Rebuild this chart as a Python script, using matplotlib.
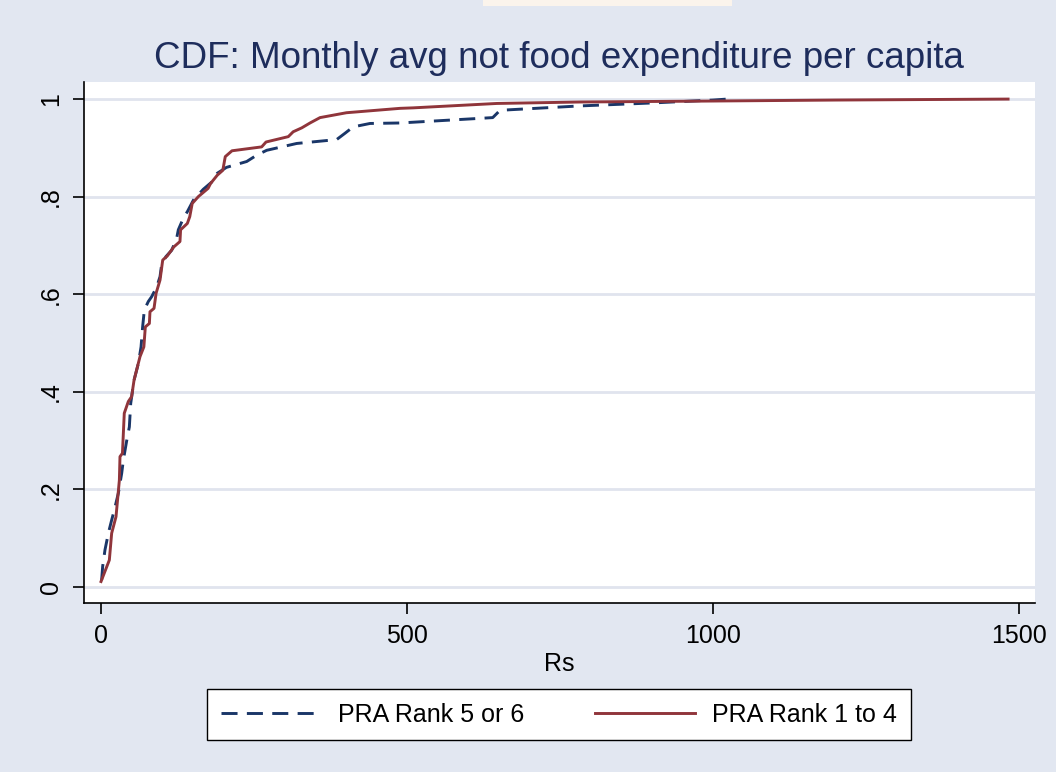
import matplotlib
matplotlib.use("Agg")
import matplotlib.pyplot as plt
from matplotlib.patches import Rectangle

plt.rcParams["font.family"] = ["Liberation Sans", "DejaVu Sans"]

# PRA Rank 5 or 6 (dashed navy)
rs_low = [1, 2.7, 6.5, 12, 17.4, 21.8, 28.3, 33.8, 36.5, 42, 46.3, 48.5, 54, 61,
          65.4, 68, 70.8, 77.3, 82.8, 91, 96.4, 99, 106, 115.4, 123.5, 126.3,
          135.6, 141, 151, 167, 181, 190, 205, 238, 254.4, 270.7, 319.7, 385,
          398.7, 412, 439.5, 488.6, 640, 652, 783, 900, 1000, 1023]
cdf_low = [0.014, 0.042, 0.076, 0.11, 0.137, 0.158, 0.192, 0.233, 0.26, 0.30,
           0.328, 0.376, 0.424, 0.458, 0.492, 0.533, 0.568, 0.585, 0.595, 0.615,
           0.636, 0.66, 0.677, 0.69, 0.714, 0.732, 0.759, 0.769, 0.793, 0.815,
           0.83, 0.848, 0.86, 0.872, 0.885, 0.895, 0.909, 0.917, 0.93, 0.943,
           0.95, 0.951, 0.962, 0.977, 0.986, 0.992, 0.998, 1.0]

# PRA Rank 1 to 4 (solid maroon)
rs_high = [0, 13.6, 17.4, 24.5, 30, 31, 35, 38, 44.6, 50, 54, 63.7, 70, 72.4, 79,
           80, 86.6, 90, 96.4, 100.8, 108, 119, 129, 130, 141, 145, 149, 159,
           175, 179, 190, 199, 203, 214, 262.5, 269.6, 306, 314, 328, 341.5,
           357.8, 401, 488.6, 510, 646.6, 783, 1000, 1200, 1482]
cdf_high = [0.011, 0.055, 0.11, 0.144, 0.219, 0.267, 0.274, 0.356, 0.38, 0.39,
            0.424, 0.472, 0.492, 0.533, 0.54, 0.564, 0.571, 0.602, 0.629, 0.67,
            0.678, 0.697, 0.708, 0.732, 0.745, 0.759, 0.786, 0.8, 0.817, 0.827,
            0.844, 0.854, 0.882, 0.894, 0.902, 0.912, 0.923, 0.933, 0.941,
            0.951, 0.962, 0.972, 0.981, 0.982, 0.991, 0.994, 0.996, 0.998, 1.0]

xticks = [0, 500, 1000, 1500]
yticks = [0, 0.2, 0.4, 0.6, 0.8, 1]
ylabels = ["0", ".2", ".4", ".6", ".8", "1"]

bg = "#e2e7f1"
navy = "#1a3668"
maroon = "#90353b"

fig = plt.figure(figsize=(10.56, 7.72), dpi=100, facecolor=bg)
# faint strip at the top edge of the screenshot
fig.patches.append(Rectangle((483 / 1056, 1 - 6 / 772), 249 / 1056, 6 / 772,
                             transform=fig.transFigure, facecolor="#fbf4ec",
                             edgecolor="none", zorder=0))
ax = fig.add_axes([84 / 1056, 1 - 603 / 772, 951 / 1056, 521 / 772])
ax.set_facecolor("white")

ax.plot(rs_low, cdf_low, color=navy, lw=2.1, ls=(0, (5.5, 3.2)),
        label="PRA Rank 5 or 6")
ax.plot(rs_high, cdf_high, color=maroon, lw=2.1, label="PRA Rank 1 to 4")

ax.set_xlim(-27.8, 1526)
ax.set_ylim(-0.033, 1.035)
ax.set_xticks(xticks)
ax.set_yticks(yticks)
ax.set_yticklabels(ylabels, rotation=90, va="center")
ax.tick_params(axis="both", labelsize=18, length=8, width=1.2, color="black",
               pad=7)
ax.grid(axis="y", color="#e0e4ee", lw=2)
ax.set_axisbelow(True)
for s in ["top", "right"]:
    ax.spines[s].set_visible(False)
for s in ["left", "bottom"]:
    ax.spines[s].set_linewidth(1.2)
ax.set_xlabel("Rs", fontsize=18, labelpad=3)

fig.text(0.529, 1 - 68 / 772, "CDF: Monthly avg not food expenditure per capita",
         ha="center", va="baseline", fontsize=26.5, color="#1e2d5c")

leg = fig.legend(loc="center", bbox_to_anchor=(559 / 1056, 1 - 714.5 / 772),
                 ncol=2, fontsize=18, handlelength=4.0, columnspacing=2.8,
                 handletextpad=0.7, borderpad=0.55, borderaxespad=0,
                 fancybox=False, frameon=True, edgecolor="black",
                 facecolor="white", framealpha=1)
leg.get_frame().set_linewidth(1.0)

fig.savefig("out.png", dpi=100, facecolor=bg)
